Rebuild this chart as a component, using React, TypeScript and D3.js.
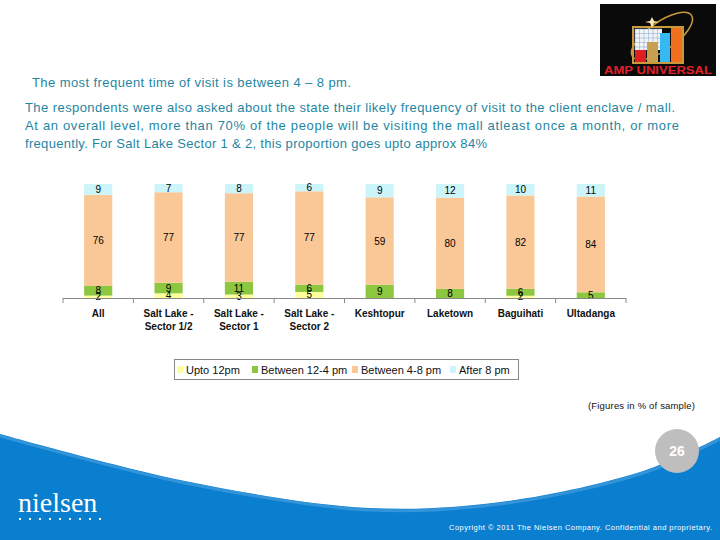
import React from "react";
import * as d3 from "d3";

const categories = [
  "All",
  "Salt Lake -\nSector 1/2",
  "Salt Lake -\nSector 1",
  "Salt Lake -\nSector 2",
  "Keshtopur",
  "Laketown",
  "Baguihati",
  "Ultadanga",
];
const seriesNames = ["Upto 12pm", "Between 12-4 pm", "Between 4-8 pm", "After 8 pm"];
const upto12 = [2, 4, 3, 5, 0, 0, 2, 0];
const between12to4 = [8, 9, 11, 6, 9, 8, 6, 5];
const between4to8 = [76, 77, 77, 77, 59, 80, 82, 84];
const after8 = [9, 7, 8, 6, 9, 12, 10, 11];
const seriesColors = ["#FFFF9E", "#8DC63F", "#FAC896", "#CCF5FA"];

const titleText = "The most frequent time of visit is between 4 \u2013 8 pm.";
const paragraphLines = [
  "The respondents were also asked about the state their likely frequency of visit to the client enclave / mall.",
  "At an overall level, more than 70% of the people will be visiting the mall atleast once a month, or more",
  "frequently.  For Salt Lake Sector 1 & 2, this proportion goes upto approx 84%",
];
const noteText = "(Figures in % of sample)";
const pageNumber = "26";
const copyrightText = "Copyright \u00A9 2011 The Nielsen Company. Confidential and proprietary.";

const FONT = "'Liberation Sans', Arial, sans-serif";

export default function App() {
  const seriesValues = [upto12, between12to4, between4to8, after8];
  const rows = categories.map((c, i) => {
    const r: any = { cat: c };
    seriesNames.forEach((s, k) => (r[s] = seriesValues[k][i]));
    return r;
  });
  const stack = d3.stack<any>().keys(seriesNames).offset(d3.stackOffsetExpand);
  const stacked = stack(rows);

  const x = d3
    .scaleBand<string>()
    .domain(categories)
    .range([63, 626])
    .paddingInner(0.6)
    .paddingOuter(0.3);
  const y = d3.scaleLinear().domain([0, 1]).range([298, 184]);
  const color = d3.scaleOrdinal<string, string>().domain(seriesNames).range(seriesColors);

  const step = x.step();
  const tickXs = categories.map((c) => (x(c) as number) - (step - x.bandwidth()) / 2);
  tickXs.push(626);

  const wavePts: [number, number][] = [
    [0, 434],
    [185, 481],
    [369, 508],
    [508, 501],
    [646, 470],
    [720, 437],
  ];
  const waveLine = d3.line().curve(d3.curveCatmullRom)(wavePts) as string;
  const waveArea = waveLine + " L720,540 L0,540 Z";

  const legendItems = [
    { sq: 177, tx: 186 },
    { sq: 252, tx: 261 },
    { sq: 352, tx: 361 },
    { sq: 450, tx: 459 },
  ];

  return (
    <svg
      width={720}
      height={540}
      style={{ position: "absolute", left: 0, top: 0, background: "#fff" }}
      fontFamily={FONT}
    >
      {/* Header texts */}
      <text x={32} y={87} fontSize={13} fill="#1F86A2" textLength={319} lengthAdjust="spacing">
        {titleText}
      </text>
      {paragraphLines.map((l, i) => (
        <text
          key={i}
          x={25}
          y={112 + i * 18}
          fontSize={13}
          fill="#1F86A2"
          textLength={[650, 654, 462][i]}
          lengthAdjust="spacing"
        >
          {l}
        </text>
      ))}

      {/* Logo */}
      <g>
        <rect x={600} y={4} width={116} height={72} fill="#0a0a0a" />
        <ellipse
          cx={662}
          cy={36}
          rx={36}
          ry={14}
          transform="rotate(-35 662 36)"
          fill="none"
          stroke="#C89A3C"
          strokeWidth={1.5}
        />
        <rect x={633} y={27} width={50} height={36} fill="none" stroke="#C89A3C" strokeWidth={2} />
        <rect x={635} y={29} width={27} height={21} fill="#F4F4F4" />
        {d3.range(6).map((i) => (
          <line key={"gv" + i} x1={635 + i * 4.5} y1={29} x2={635 + i * 4.5} y2={50} stroke="#8fb0d8" strokeWidth={0.6} />
        ))}
        {d3.range(5).map((i) => (
          <line key={"gh" + i} x1={635} y1={29 + i * 4.5} x2={662} y2={29 + i * 4.5} stroke="#8fb0d8" strokeWidth={0.6} />
        ))}
        <rect x={635} y={50} width={11} height={12} fill="#E02020" />
        <rect x={647} y={42} width={11} height={20} fill="#C8A050" />
        <rect x={660} y={33} width={10} height={29} fill="#38B8F0" />
        <rect x={671} y={28} width={11} height={34} fill="#F07020" />
        <path d="M652,17 L654,21 L659,22 L654,23 L652,28 L650,23 L645,22 L650,21 Z" fill="#F8E8B0" />
        <text x={658} y={73.5} fontSize={10.5} fontWeight={900} fill="#E0202A" textAnchor="middle" textLength={108} lengthAdjust="spacingAndGlyphs">
          AMP UNIVERSAL
        </text>
      </g>

      {/* Bars */}
      {stacked.map((layer) => (
        <g key={layer.key} fill={color(layer.key)}>
          {layer.map((d, i) => (
            <rect
              key={i}
              x={x(categories[i])}
              y={y(d[1])}
              width={x.bandwidth()}
              height={Math.max(0, y(d[0]) - y(d[1]))}
            />
          ))}
        </g>
      ))}
      {/* Value labels */}
      {stacked.map((layer, k) =>
        layer.map((d, i) => {
          const v = seriesValues[k][i];
          if (!v) return null;
          return (
            <text
              key={layer.key + i}
              x={(x(categories[i]) as number) + x.bandwidth() / 2}
              y={(y(d[0]) + y(d[1])) / 2 + 3.5}
              fontSize={10}
              textAnchor="middle"
              fill="#000"
            >
              {v}
            </text>
          );
        })
      )}

      {/* Axis */}
      <line x1={63} x2={626} y1={298.5} y2={298.5} stroke="#888" strokeWidth={1} />
      {tickXs.map((t, i) => (
        <line key={i} x1={t} x2={t} y1={298} y2={303} stroke="#888" strokeWidth={1} />
      ))}
      {categories.map((c) =>
        c.split("\n").map((line, j) => (
          <text
            key={c + j}
            x={(x(c) as number) + x.bandwidth() / 2}
            y={316.5 + j * 13}
            fontSize={10}
            fontWeight="bold"
            textAnchor="middle"
            fill="#111"
          >
            {line}
          </text>
        ))
      )}

      {/* Legend */}
      <rect x={174.5} y={359.5} width={344} height={20} fill="#fff" stroke="#888" strokeWidth={1} />
      {seriesNames.map((s, i) => (
        <g key={s}>
          <rect x={legendItems[i].sq} y={366} width={6} height={7} fill={color(s)} />
          <text x={legendItems[i].tx} y={373.5} fontSize={11} fill="#111">
            {s}
          </text>
        </g>
      ))}

      <text x={588} y={408.5} fontSize={9.5} fill="#111" textLength={107} lengthAdjust="spacing">
        {noteText}
      </text>

      {/* Footer wave */}
      <path d={waveArea} fill="#0A7ECF" />
      <path d={waveLine} fill="none" stroke="#4FA3E0" strokeWidth={3} transform="translate(0,2)" opacity={0.6} />
      <circle cx={677} cy={451} r={22} fill="#BEBEBE" />
      <text x={677} y={456} fontSize={14} fontWeight="bold" fill="#fff" textAnchor="middle">
        {pageNumber}
      </text>

      <text x={18} y={512} fontSize={28} fontFamily="'Liberation Serif', 'DejaVu Serif', serif" fill="#fff">
        nielsen
      </text>
      {d3.range(9).map((i) => (
        <rect key={i} x={19 + i * 10} y={518} width={2} height={2} fill="#fff" />
      ))}
      <text x={449} y={530} fontSize={7.5} fill="#fff" textLength={263} lengthAdjust="spacing">
        {copyrightText}
      </text>
    </svg>
  );
}
